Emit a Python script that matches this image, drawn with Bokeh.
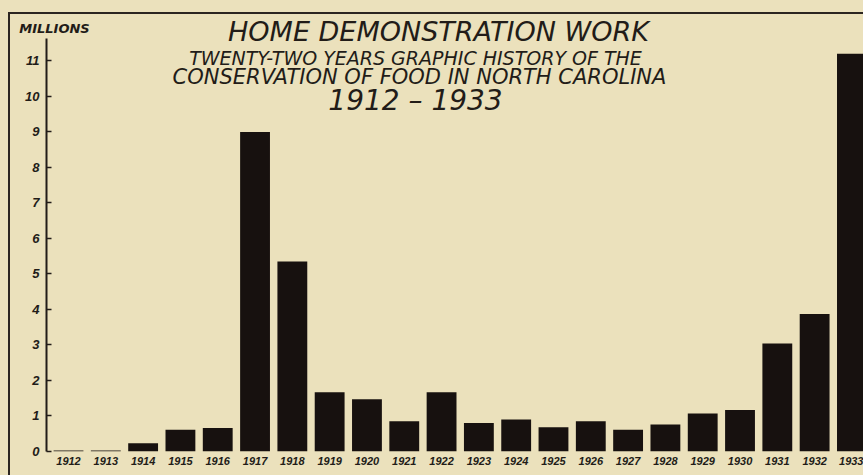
from bokeh.plotting import figure
from bokeh.models import Range1d, FixedTicker, Label, LinearAxis
from bokeh.embed import file_html
from bokeh.resources import INLINE

# ---- data (millions) ----
years = [1912, 1913, 1914, 1915, 1916, 1917, 1918, 1919, 1920, 1921, 1922,
         1923, 1924, 1925, 1926, 1927, 1928, 1929, 1930, 1931, 1932, 1933]
values = [0.03, 0.03, 0.23, 0.61, 0.66, 9.0, 5.35, 1.67, 1.47, 0.85, 1.67,
          0.80, 0.90, 0.68, 0.85, 0.61, 0.76, 1.07, 1.17, 3.04, 3.87, 11.2]
y_ticks = [0, 1, 2, 3, 4, 5, 6, 7, 8, 9, 10, 11]

title_text = "HOME DEMONSTRATION WORK"
subtitle_1 = "TWENTY-TWO YEARS GRAPHIC HISTORY OF THE"
subtitle_2 = "CONSERVATION OF FOOD IN NORTH CAROLINA"
year_span = "1912 – 1933"
unit_text = "MILLIONS"

# ---- style ----
BG = "#ebe1bc"
INK = "#221c18"
BAR = "#17110f"
LINE = "#2b2520"

# frame spans px 20..451 vertically; 0..11.63 of the value scale is px 451..38
p = figure(width=863, height=475, output_backend="svg", toolbar_location=None,
           x_range=Range1d(1911.41, 1933.31), y_range=Range1d(0, 12.14),
           min_border_left=46, min_border_right=0, min_border_top=20,
           min_border_bottom=24)

p.background_fill_color = None
p.border_fill_color = None
p.outline_line_color = None
p.xgrid.visible = False
p.ygrid.visible = False

p.styles = {
    "background": ("linear-gradient(" + LINE + ", " + LINE + ") 8px 12px / 100% 2px no-repeat, "
                   "linear-gradient(" + LINE + ", " + LINE + ") 8px 12px / 2px 100% no-repeat, "
                   + BG),
}

p.vbar(x=years, top=values, bottom=0, width=0.8, fill_color=BAR, line_color=None)

# x axis
p.xaxis.ticker = FixedTicker(ticks=years)
p.xaxis.axis_line_color = None
p.xaxis.major_tick_line_color = None
p.xaxis.minor_tick_line_color = None
p.xaxis.major_tick_in = 0
p.xaxis.major_tick_out = 0
p.xaxis.major_label_standoff = 5
p.xaxis.major_label_text_font = "Liberation Sans"
p.xaxis.major_label_text_font_style = "bold italic"
p.xaxis.major_label_text_font_size = "11px"
p.xaxis.major_label_text_color = INK

# y axis
p.yaxis.ticker = FixedTicker(ticks=y_ticks)
p.yaxis.bounds = (0, 11.63)
p.yaxis.axis_line_color = INK
p.yaxis.axis_line_width = 2
p.yaxis.major_tick_line_color = INK
p.yaxis.major_tick_line_width = 1.5
p.yaxis.major_tick_in = 5
p.yaxis.major_tick_out = 0
p.yaxis.minor_tick_line_color = None
p.yaxis.major_label_standoff = 7
p.yaxis.major_label_text_font = "Liberation Sans"
p.yaxis.major_label_text_font_style = "bold italic"
p.yaxis.major_label_text_font_size = "13px"
p.yaxis.major_label_text_color = INK

# unit caption "MILLIONS" above the value axis (an axis label, so it is not clipped)
p.extra_x_ranges = {"unit": Range1d(46, 863)}
unit_axis = LinearAxis(x_range_name="unit", ticker=FixedTicker(ticks=[54]),
                       major_label_overrides={54: unit_text},
                       axis_line_color=None, major_tick_line_color=None,
                       minor_tick_line_color=None, major_tick_in=0, major_tick_out=0,
                       major_label_standoff=-15,
                       major_label_text_font="DejaVu Sans",
                       major_label_text_font_style="bold italic",
                       major_label_text_font_size="13px",
                       major_label_text_color=INK)
p.add_layout(unit_axis, "above")


def add_text(x, y, text, size):
    p.add_layout(Label(x=x, y=y, x_units="canvas", y_units="canvas", text=text,
                       text_align="center", text_baseline="middle",
                       text_font="DejaVu Sans", text_font_style="italic",
                       text_font_size=size, text_color=INK))


add_text(438, 31, title_text, "27px")
add_text(415, 57, subtitle_1, "19px")
add_text(419, 76, subtitle_2, "21px")
add_text(415, 100, year_span, "28px")

html = file_html(p, INLINE)
html = html.replace("</head>", "<style>body{background:" + BG + ";}</style></head>", 1)
open("out.html", "w").write(html)
